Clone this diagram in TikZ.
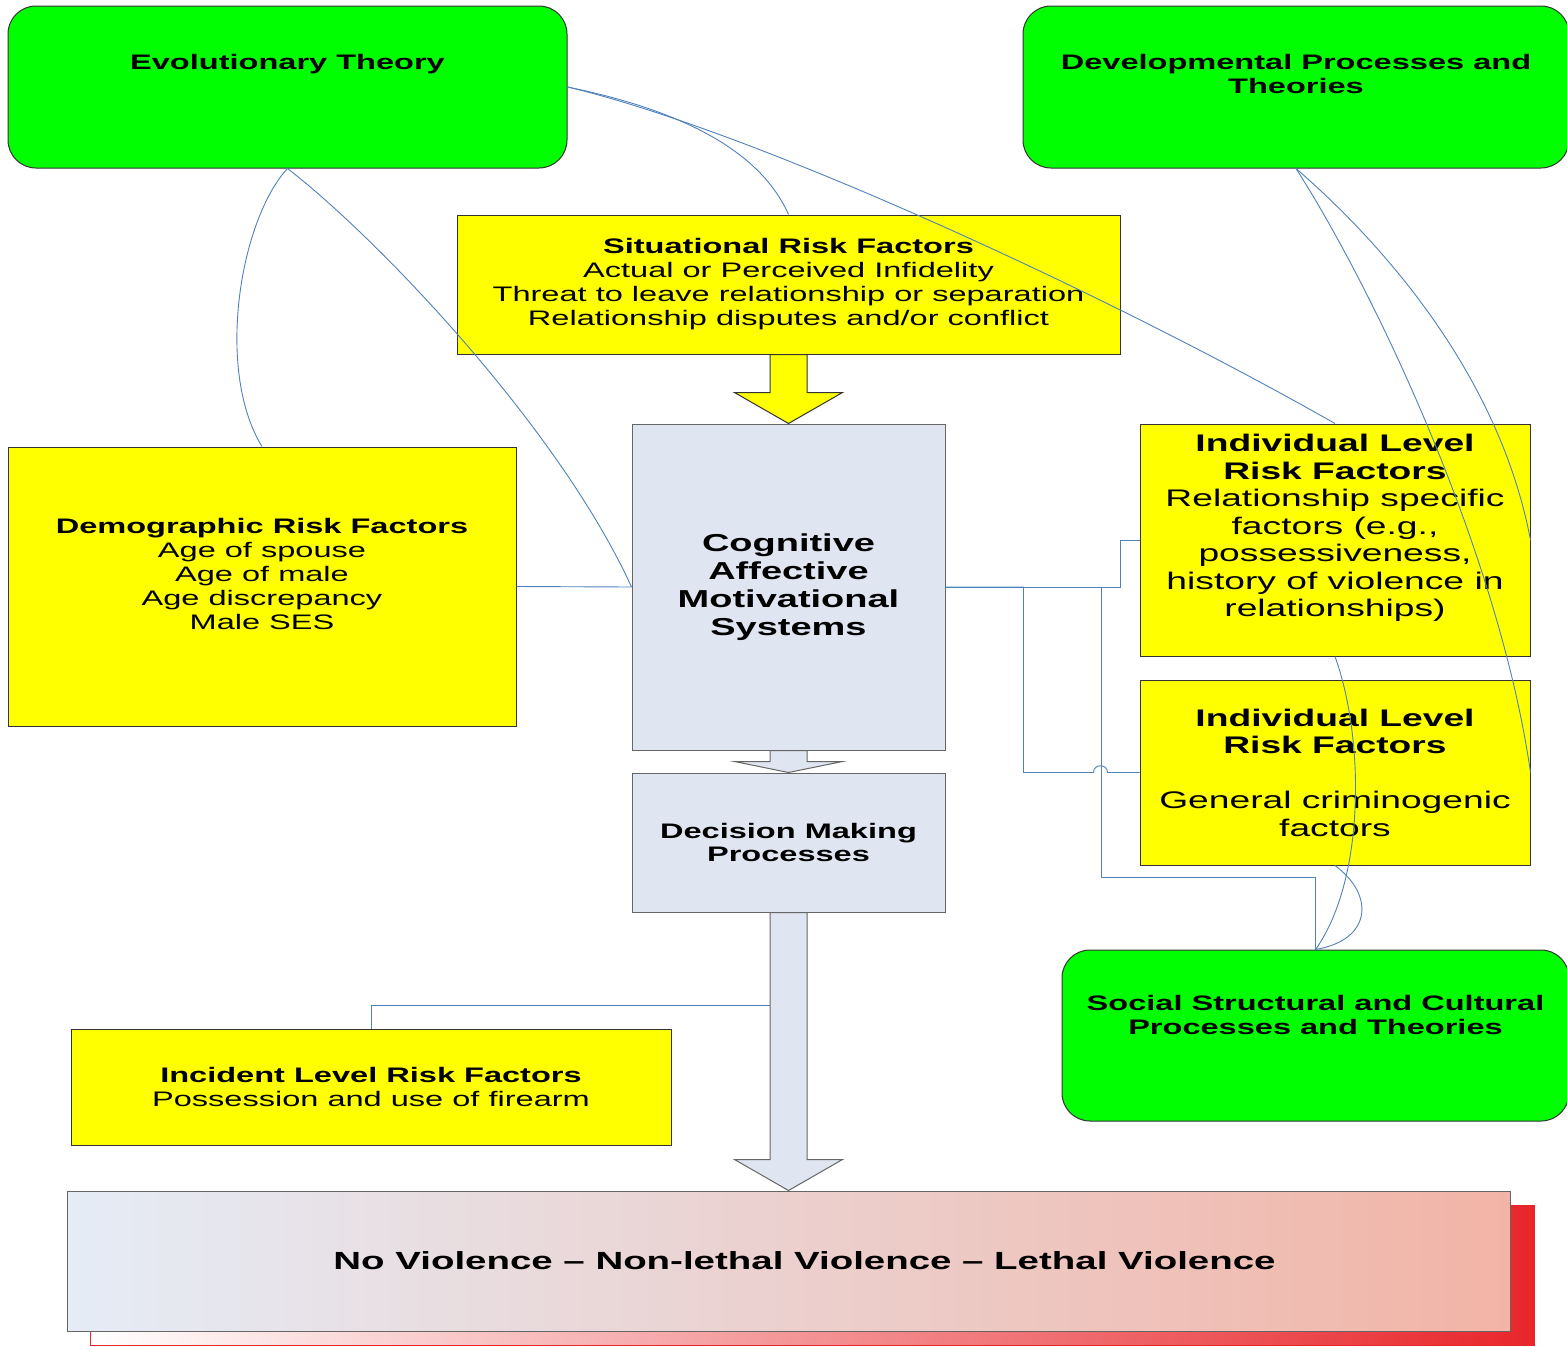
\documentclass[tikz,border=0pt]{standalone}
\usepackage{fontspec}
\setmainfont{Liberation Sans}[FakeStretch=1.55]
\usetikzlibrary{calc}
\definecolor{theorygreen}{RGB}{0,255,0}
\definecolor{riskyellow}{RGB}{255,255,0}
\definecolor{procblue}{RGB}{223,230,241}
\definecolor{linkblue}{RGB}{79,129,189}
\definecolor{lowend}{RGB}{229,236,246}
\definecolor{highend}{RGB}{242,180,166}
\definecolor{shadowred}{RGB}{232,38,42}

\begin{document}
\begin{tikzpicture}[x=1pt,y=-1pt,
  theory/.style={draw=black!80,fill=theorygreen,rounded corners=28pt,inner sep=0pt,line width=1pt},
  risk/.style={draw=black!80,fill=riskyellow,inner sep=0pt,align=center,line width=1pt},
  proc/.style={draw=black!60,fill=procblue,inner sep=0pt,align=center,line width=1pt},
  words/.style={align=center,inner sep=0pt},
  link/.style={draw=linkblue,line width=0.9pt}]
\fontsize{21}{24}\selectfont
\useasboundingbox (0,0) rectangle (1567,1347);

\node [theory,minimum width=559pt,minimum height=162pt] (evo) at (287.5,87) {};
\node [words,font=\bfseries] (evo-t) at ($(evo.north)+(0,59)$) {Evolutionary Theory};
\node [theory,minimum width=546pt,minimum height=162pt] (dev) at (1296,87) {};
\node [words,font=\bfseries] (dev-t) at ($(dev.north)+(0,68)$) {Developmental Processes and\\Theories};

\node [risk,minimum width=663pt,minimum height=139pt] (sit) at (788.5,284.5)
  {\textbf{Situational Risk Factors}\\Actual or Perceived Infidelity\\Threat to leave relationship or separation\\Relationship disputes and/or conflict};
\node [proc,minimum width=313pt,minimum height=326pt,font=\fontsize{24.5}{28}\selectfont\bfseries] (cog) at (788.5,587)
  {Cognitive\\Affective\\Motivational\\Systems};
\node [proc,minimum width=313pt,minimum height=139pt,font=\fontsize{21}{23}\selectfont\bfseries] (dec) at (788.5,842.5)
  {Decision Making\\Processes};

\node [risk,minimum width=508pt,minimum height=279pt] (dem) at (262,586.5) {};
\node [words] (dem-t) at (262,574)
  {\textbf{Demographic Risk Factors}\\Age of spouse\\Age of male\\Age discrepancy\\Male SES};

\node [risk,minimum width=390pt,minimum height=232pt] (ind1) at (1335,540) {};
\node [words,font=\fontsize{24}{27.5}\selectfont] (ind1-t) at (1335,528)
  {\textbf{Individual Level}\\\textbf{Risk Factors}\\Relationship specific\\factors (e.g.,\\possessiveness,\\history of violence in\\relationships)};
\node [risk,minimum width=390pt,minimum height=185pt,font=\fontsize{24}{27.5}\selectfont] (ind2) at (1335,772.5)
  {\textbf{Individual Level}\\\textbf{Risk Factors}\\[27.5pt]General criminogenic\\factors};

\node [theory,minimum width=507pt,minimum height=171pt] (soc) at (1315.5,1035.5) {};
\node [words,font=\bfseries] (soc-t) at ($(soc.north)+(0,65)$) {Social Structural and Cultural\\Processes and Theories};

\node [risk,minimum width=600pt,minimum height=116pt] (inc) at (371,1087)
  {\textbf{Incident Level Risk Factors}\\Possession and use of firearm};

\node [draw=shadowred,left color=white,right color=shadowred,minimum width=1444pt,minimum height=140pt,inner sep=0pt] (shade) at (812,1275) {};
\node [draw=black!60,left color=lowend,right color=highend,minimum width=1443pt,minimum height=140pt,inner sep=0pt,line width=1pt] (out) at (788.5,1261) {};
\node [words,font=\fontsize{24.8}{28}\selectfont\bfseries] (out-t) at ($(out.center)+(16,0)$)
  {No Violence – Non-lethal Violence – Lethal Violence};

\draw [draw=black!80,fill=riskyellow,line width=1pt] ($(sit.south)+(-18.5,0)$) -- ($(cog.north)+(-18.5,-31)$) -- ($(cog.north)+(-54,-31)$)
  -- (cog.north) -- ($(cog.north)+(54,-31)$) -- ($(cog.north)+(18.5,-31)$) -- ($(sit.south)+(18.5,0)$) -- cycle;
\draw [draw=black!60,fill=procblue,line width=1pt] ($(cog.south)+(-18.5,0)$) -- ($(dec.north)+(-18.5,-11)$) -- ($(dec.north)+(-54,-11)$)
  -- (dec.north) -- ($(dec.north)+(54,-11)$) -- ($(dec.north)+(18.5,-11)$) -- ($(cog.south)+(18.5,0)$) -- cycle;
\draw [draw=black!60,fill=procblue,line width=1pt] ($(dec.south)+(-18.5,0)$) -- ($(out.north)+(-18.5,-31)$) -- ($(out.north)+(-54,-31)$)
  -- (out.north) -- ($(out.north)+(54,-31)$) -- ($(out.north)+(18.5,-31)$) -- ($(dec.south)+(18.5,0)$) -- cycle;
\coordinate (tap) at ($(dec.south)+(-18.5,93)$);

\draw [link] (evo.south) .. controls (240,220) and (215,370) .. (dem.north);
\draw [link] (evo.south) .. controls (380,240) and (560,430) .. (cog.west);
\draw [link] (evo.east) .. controls (680,110) and (760,150) .. (sit.north);
\draw [link] (evo.east) .. controls (750,130) and (1100,290) .. (ind1.north);
\draw [link] (dev.south) .. controls (1390,250) and (1500,380) .. (ind1.east);
\draw [link] (dev.south) .. controls (1380,300) and (1500,560) .. (ind2.east);
\draw [link] (ind1.south) .. controls (1365,740) and (1365,880) .. (soc.north);
\draw [link] (ind2.south) .. controls (1375,895) and (1372,940) .. (soc.north);
\draw [link] (dem.east) -- (cog.west);
\draw [link] (cog.east) -- ++(175,0) |- (ind1.west);
\draw [link] (cog.east) -- ++(156,0) |- ($(soc.north)+(0,-72)$) -- (soc.north);
\draw [link] (cog.east) -- ++(78,0) |- ($(ind2.west)+(-46,0)$) .. controls ++(0,-9) and ($(ind2.west)+(-32,-9)$) .. ($(ind2.west)+(-32,0)$) -- (ind2.west);
\draw [link] (tap) -| (inc.north);
\end{tikzpicture}
\end{document}
